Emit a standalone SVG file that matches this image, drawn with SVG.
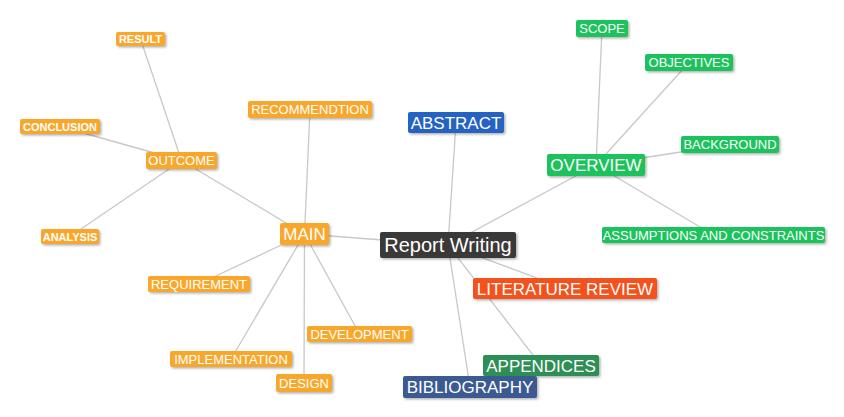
<svg xmlns="http://www.w3.org/2000/svg" width="844" height="417" viewBox="0 0 844 417">
<style>
  .n text { fill: #ffffff; font-family: "Liberation Sans", Arial, sans-serif; text-anchor: middle; }
  .s11 { font-size: 11px; font-weight: bold; }
  .s13 { font-size: 13px; }
  .s17 { font-size: 17px; }
  .s20 { font-size: 20px; }
  .or rect { fill: #F9A72B; }
  .gr rect { fill: #1FC35B; }
  .n rect { filter: url(#sh); }
  #connectors line { stroke: #c8c8c8; stroke-width: 1.3; }
</style>
<defs>
  <filter id="sh" x="-10%" y="-30%" width="130%" height="170%">
    <feDropShadow dx="1.5" dy="1.5" stdDeviation="1" flood-color="#000" flood-opacity="0.3"/>
  </filter>
</defs>
<rect width="844" height="417" fill="#ffffff"/>
<g id="connectors">
  <line x1="448" y1="245" x2="304.5" y2="234"/>
  <line x1="448" y1="245" x2="456" y2="122.5"/>
  <line x1="448" y1="245" x2="596" y2="165"/>
  <line x1="448" y1="245" x2="565" y2="288.5"/>
  <line x1="448" y1="245" x2="541" y2="365.5"/>
  <line x1="448" y1="245" x2="470" y2="387"/>
  <line x1="304.5" y1="234" x2="181.5" y2="160.5"/>
  <line x1="304.5" y1="234" x2="310" y2="109.5"/>
  <line x1="304.5" y1="234" x2="199" y2="284"/>
  <line x1="304.5" y1="234" x2="231" y2="359"/>
  <line x1="304.5" y1="234" x2="304" y2="383"/>
  <line x1="304.5" y1="234" x2="359.5" y2="334"/>
  <line x1="181.5" y1="160.5" x2="140.5" y2="39"/>
  <line x1="181.5" y1="160.5" x2="60" y2="126.5"/>
  <line x1="181.5" y1="160.5" x2="70" y2="236.5"/>
  <line x1="596" y1="165" x2="602" y2="28.5"/>
  <line x1="596" y1="165" x2="689" y2="62.5"/>
  <line x1="596" y1="165" x2="730" y2="144.5"/>
  <line x1="596" y1="165" x2="713.5" y2="235"/>
</g>
<g id="result" class="n or"><rect x="116" y="32" width="49" height="14" rx="2"/><text class="s11" x="140.5" y="43">RESULT</text></g>
<g id="conclusion" class="n or"><rect x="20" y="119" width="80" height="15" rx="2"/><text class="s11" x="60" y="130.5">CONCLUSION</text></g>
<g id="outcome" class="n or"><rect x="146" y="152" width="71" height="17" rx="2"/><text class="s13" x="181.5" y="165.2">OUTCOME</text></g>
<g id="analysis" class="n or"><rect x="41" y="229" width="58" height="15" rx="2"/><text class="s11" x="70" y="240.5">ANALYSIS</text></g>
<g id="recommendtion" class="n or"><rect x="248" y="101" width="124" height="17" rx="2"/><text class="s13" x="310" y="114.2">RECOMMENDTION</text></g>
<g id="main" class="n or"><rect x="280" y="223" width="49" height="22" rx="2"/><text class="s17" x="304.5" y="240.1">MAIN</text></g>
<g id="requirement" class="n or"><rect x="148" y="276" width="102" height="16" rx="2"/><text class="s13" x="199" y="288.7">REQUIREMENT</text></g>
<g id="development" class="n or"><rect x="307" y="326" width="105" height="16" rx="2"/><text class="s13" x="359.5" y="338.7">DEVELOPMENT</text></g>
<g id="implementation" class="n or"><rect x="170" y="351" width="122" height="16" rx="2"/><text class="s13" x="231" y="363.7">IMPLEMENTATION</text></g>
<g id="design" class="n or"><rect x="276" y="374" width="56" height="18" rx="2"/><text class="s13" x="304" y="387.7">DESIGN</text></g>
<g id="abstract" class="n"><rect x="408" y="112" width="96" height="21" rx="2" fill="#2762C2"/><text class="s17" x="456" y="128.6">ABSTRACT</text></g>
<g id="report-writing" class="n"><rect x="380" y="232" width="136" height="26" rx="2" fill="#3B3939"/><text class="s20" x="448" y="252.2">Report Writing</text></g>
<g id="overview" class="n gr"><rect x="547" y="154" width="98" height="22" rx="2"/><text class="s17" x="596" y="171.1">OVERVIEW</text></g>
<g id="literature-review" class="n"><rect x="473" y="278" width="184" height="21" rx="2" fill="#F4511E"/><text class="s17" x="565" y="294.6">LITERATURE REVIEW</text></g>
<g id="appendices" class="n"><rect x="483" y="355" width="116" height="21" rx="2" fill="#2E8F57"/><text class="s17" x="541" y="371.6">APPENDICES</text></g>
<g id="bibliography" class="n"><rect x="403" y="376" width="134" height="22" rx="2" fill="#3B5A92"/><text class="s17" x="470" y="393.1">BIBLIOGRAPHY</text></g>
<g id="scope" class="n gr"><rect x="576" y="20" width="52" height="17" rx="2"/><text class="s13" x="602" y="33.2">SCOPE</text></g>
<g id="objectives" class="n gr"><rect x="645" y="54" width="88" height="17" rx="2"/><text class="s13" x="689" y="67.2">OBJECTIVES</text></g>
<g id="background" class="n gr"><rect x="681" y="136" width="98" height="17" rx="2"/><text class="s13" x="730" y="149.2">BACKGROUND</text></g>
<g id="assumptions" class="n gr"><rect x="602" y="227" width="223" height="16" rx="2"/><text class="s13" x="713.5" y="239.7">ASSUMPTIONS AND CONSTRAINTS</text></g>
</svg>
